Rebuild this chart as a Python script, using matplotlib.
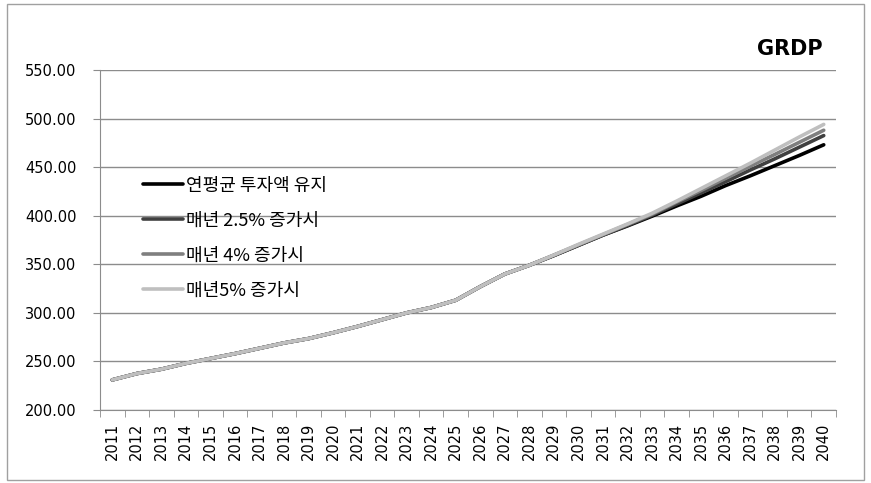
import matplotlib.pyplot as plt
import matplotlib.patches as patches
import numpy as np

# GRDP 전망 (2011~2040)
years = list(range(2011, 2041))
common = [231, 237.5, 242, 248, 253, 258, 263.5, 269, 273.5, 279.5,
          286, 293, 300, 305.5, 313, 327, 340, 349]
keep_avg = common + [359, 369.5, 380, 389.5, 399.5, 410, 420, 431, 441, 451.5, 462, 473]
grow_25 = common + [359, 369.5, 380, 390, 400.5, 412, 423.5, 435, 447, 458.5, 470.5, 482.5]
grow_4 = common + [359.5, 370, 380.5, 391, 401.5, 414, 426, 438.5, 451, 463, 475.5, 488]
grow_5 = common + [359.5, 370.5, 381, 391.5, 402.5, 415, 428, 441, 454, 467.5, 481, 494]

labels = ['연평균 투자액 유지', '매년 2.5% 증가시', '매년 4% 증가시', '매년5% 증가시']
colors = ['#000000', '#404040', '#7f7f7f', '#bfbfbf']

W, H = 871, 483
fig = plt.figure(figsize=(W / 100, H / 100), dpi=100)

# 차트 영역 테두리
fig.patches.append(patches.Rectangle((7 / W, 1 - 480 / H), (864 - 7) / W, (480 - 4) / H,
                                     transform=fig.transFigure, fill=False,
                                     edgecolor='#a0a0a0', linewidth=1))

ax = fig.add_axes([100 / W, 1 - 410 / H, (836 - 100) / W, (410 - 70) / H])

x = np.arange(len(years))
for series, label, color in zip([keep_avg, grow_25, grow_4, grow_5], labels, colors):
    ax.plot(x, series, color=color, linewidth=2.6, label=label, solid_capstyle='round')

ax.set_xlim(-0.5, len(years) - 0.5)
ax.set_ylim(200, 550)
ax.set_yticks(np.arange(200, 551, 50))
ax.set_yticklabels([f'{v:.2f}' for v in np.arange(200, 551, 50)],
                   fontsize=10.5, family='DejaVu Sans')
ax.grid(axis='y', color='#8c8c8c', linewidth=1)
ax.set_axisbelow(True)

ax.set_xticks(x)
ax.set_xticklabels([str(y) for y in years], rotation=90, fontsize=10.5, family='DejaVu Sans')
ax.set_xticks(np.arange(-0.5, len(years), 1), minor=True)
ax.tick_params(axis='x', which='major', length=0, pad=9)
ax.tick_params(axis='x', which='minor', length=5, color='#8c8c8c')
ax.tick_params(axis='y', length=5, color='#8c8c8c', pad=12)

for side in ['top', 'right']:
    ax.spines[side].set_visible(False)
for side in ['left', 'bottom']:
    ax.spines[side].set_color('#8c8c8c')

ax.legend(loc='center left', bbox_to_anchor=(143 / W, 1 - 238 / H),
          bbox_transform=fig.transFigure, frameon=False,
          prop={'family': ['Noto Sans CJK KR', 'DejaVu Sans'], 'size': 13},
          handlelength=2.2, handletextpad=0.2, labelspacing=0.94,
          borderpad=0, borderaxespad=0)

fig.text(823 / W, 1 - 49 / H, 'GRDP', ha='right', va='center',
         fontsize=15, fontweight='bold', family='DejaVu Sans')

fig.savefig('out.png', dpi=100)
